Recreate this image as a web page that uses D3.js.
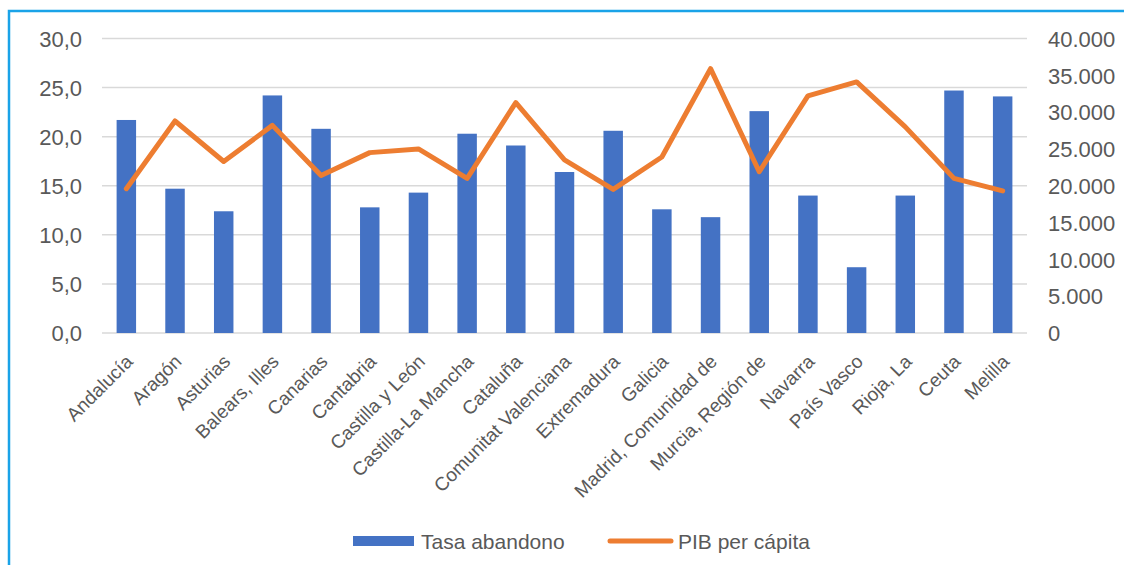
<!DOCTYPE html>
<html>
<head>
<meta charset="utf-8">
<script src="https://cdn.jsdelivr.net/npm/d3@7"></script>
<style>
  body { margin: 0; background: #fff; }
  text { font-family: "Liberation Sans", Arial, sans-serif; fill: #595959; }
  .grid line { stroke: #d9d9d9; stroke-width: 1.5; }
</style>
</head>
<body>
<div id="chart"></div>
<script>
var regiones = ["Andalucía", "Aragón", "Asturias", "Balears, Illes", "Canarias", "Cantabria",
    "Castilla y León", "Castilla-La Mancha", "Cataluña", "Comunitat Valenciana", "Extremadura",
    "Galicia", "Madrid, Comunidad de", "Murcia, Región de", "Navarra", "País Vasco", "Rioja, La",
    "Ceuta", "Melilla"];
var tasaAbandono = [21.7, 14.7, 12.4, 24.2, 20.8, 12.8, 14.3, 20.3, 19.1, 16.4, 20.6,
    12.6, 11.8, 22.6, 14.0, 6.7, 14.0, 24.7, 24.1];
var pibPerCapita = [19600, 28800, 23300, 28200, 21400, 24500, 25000, 21000, 31300, 23500, 19500,
    23900, 35900, 21900, 32200, 34100, 28000, 21000, 19300];
var leftTicks = [0, 5, 10, 15, 20, 25, 30];
var rightTicks = [0, 5000, 10000, 15000, 20000, 25000, 30000, 35000, 40000];

var w = 1124, h = 565;
var mLeft = 102, mRight = 1027, mTop = 38.5, mBottom = 333;

var svg = d3.select("#chart").append("svg").attr("width", w).attr("height", h);

// marco azul (solo arriba e izquierda)
svg.append("path")
    .attr("d", "M9," + h + " V11 H" + w)
    .attr("fill", "none")
    .attr("stroke", "#1aa3e8")
    .attr("stroke-width", 2.5);

var x = d3.scaleBand().domain(regiones).range([mLeft, mRight]).paddingInner(0.6).paddingOuter(0.3);
var yL = d3.scaleLinear().domain([0, 30]).range([mBottom, mTop]);
var yR = d3.scaleLinear().domain([0, 40000]).range([mBottom, mTop]);

var fmtL = d3.formatLocale({decimal: ",", thousands: ".", grouping: [3], currency: ["", "€"]});

// gridlines
svg.append("g").attr("class", "grid")
    .selectAll("line").data(leftTicks).enter().append("line")
    .attr("x1", mLeft).attr("x2", mRight)
    .attr("y1", d => yL(d)).attr("y2", d => yL(d));

// left axis
var axL = svg.append("g").attr("transform", "translate(" + (mLeft - 20) + ",0)")
    .call(d3.axisLeft(yL).tickValues(leftTicks).tickSize(0).tickFormat(fmtL.format(".1f")));
axL.select(".domain").remove();
axL.selectAll("text").attr("font-size", 22).attr("dy", "0.35em").attr("x", 0);

// right axis
var axR = svg.append("g").attr("transform", "translate(" + (mRight + 21) + ",0)")
    .call(d3.axisRight(yR).tickValues(rightTicks).tickSize(0).tickFormat(fmtL.format(",d")));
axR.select(".domain").remove();
axR.selectAll("text").attr("font-size", 22).attr("dy", "0.35em").attr("x", 0);

// bars
svg.append("g").selectAll("rect").data(tasaAbandono).enter().append("rect")
    .attr("x", (d, i) => x(regiones[i]))
    .attr("y", d => yL(d))
    .attr("width", x.bandwidth())
    .attr("height", d => yL(0) - yL(d))
    .attr("fill", "#4472c4");

// line
var line = d3.line()
    .x((d, i) => x(regiones[i]) + x.bandwidth() / 2)
    .y(d => yR(d));
svg.append("path")
    .attr("d", line(pibPerCapita))
    .attr("fill", "none")
    .attr("stroke", "#ed7d31")
    .attr("stroke-width", 5)
    .attr("stroke-linejoin", "round")
    .attr("stroke-linecap", "round");

// category labels
var axX = svg.append("g").attr("transform", "translate(0," + mBottom + ")")
    .call(d3.axisBottom(x).tickSize(0));
axX.select(".domain").remove();
axX.selectAll("text")
    .attr("font-size", 19)
    .attr("text-anchor", "end")
    .attr("y", 0)
    .attr("dy", "0.35em")
    .attr("transform", "translate(3,25) rotate(-45)");

// legend
var lg = svg.append("g");
lg.append("rect").attr("x", 353).attr("y", 536).attr("width", 61).attr("height", 10).attr("fill", "#4472c4");
lg.append("text").attr("x", 421).attr("y", 549).attr("font-size", 21).text("Tasa abandono");
lg.append("line").attr("x1", 610).attr("x2", 671).attr("y1", 541).attr("y2", 541)
    .attr("stroke", "#ed7d31").attr("stroke-width", 5).attr("stroke-linecap", "round");
lg.append("text").attr("x", 678).attr("y", 549).attr("font-size", 21).text("PIB per cápita");
</script>
</body>
</html>
